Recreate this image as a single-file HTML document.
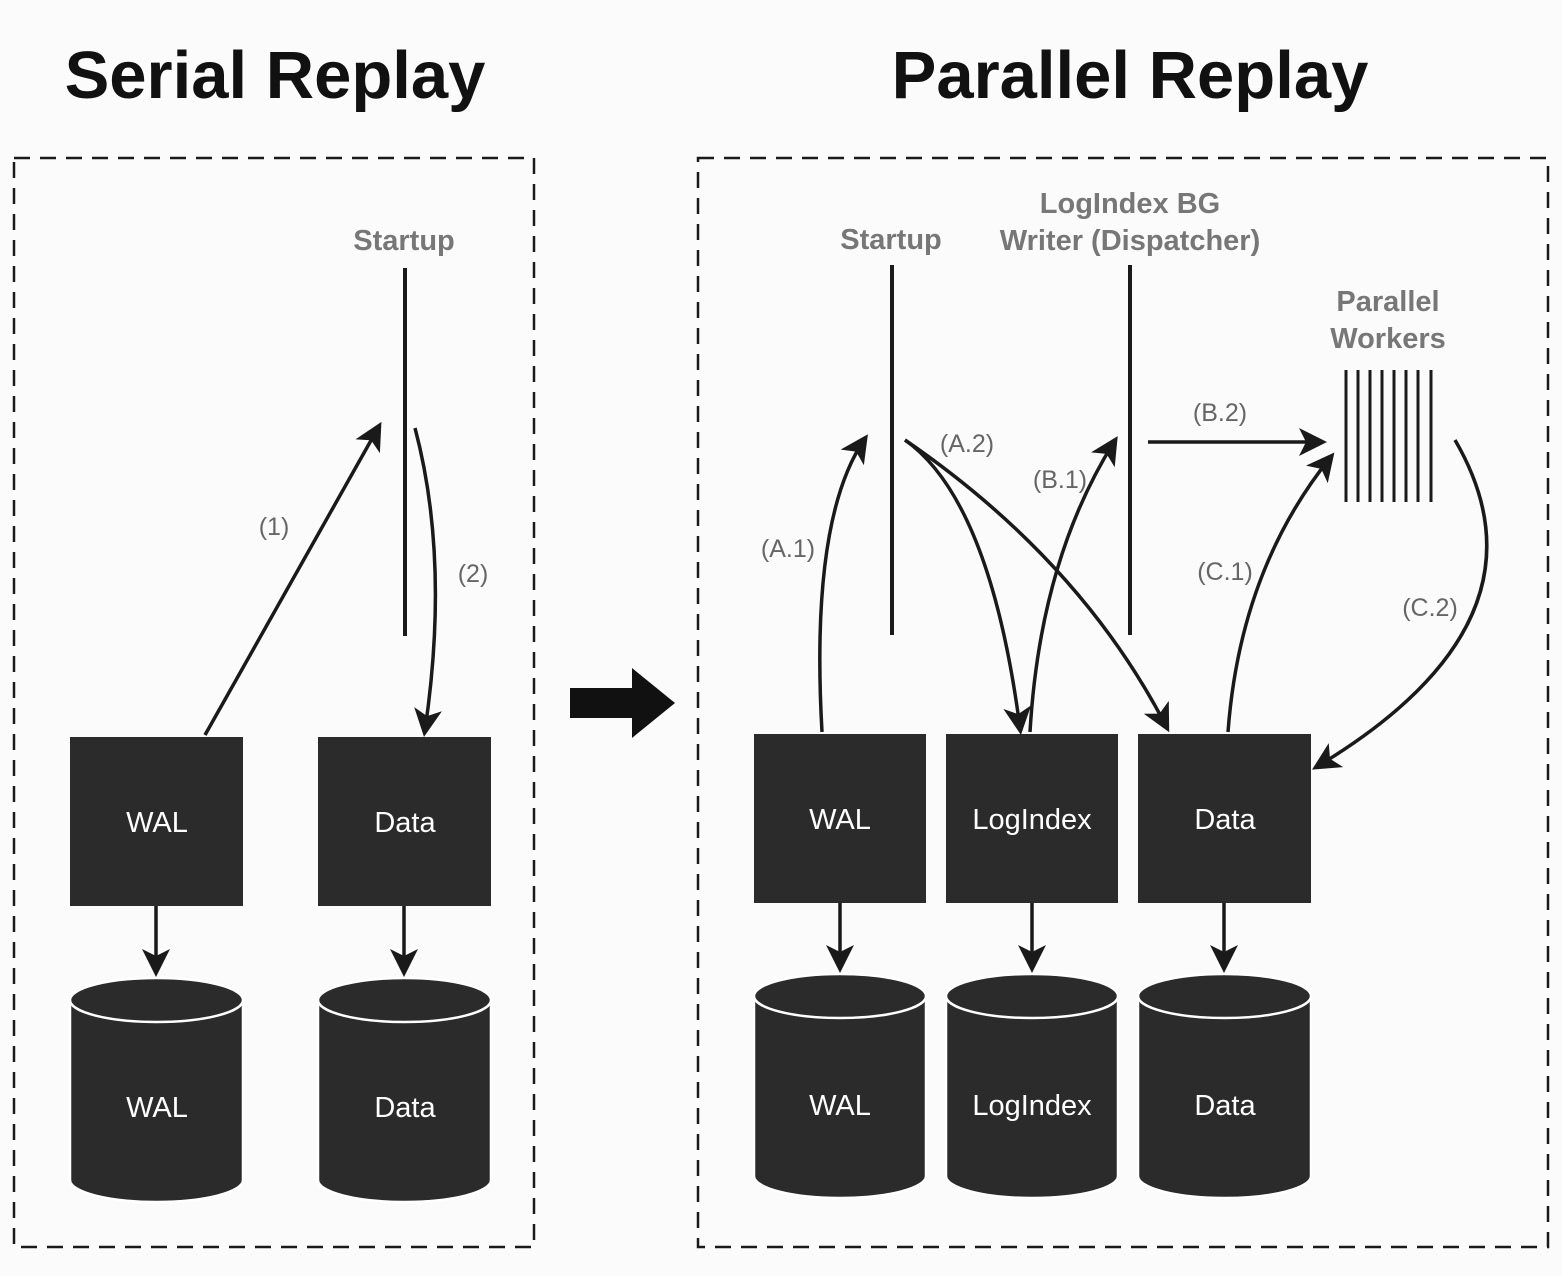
<!DOCTYPE html>
<html><head><meta charset="utf-8"><style>
html,body{margin:0;padding:0;background:#fbfbfb;}
svg{display:block;}
text{font-family:"Liberation Sans",Arial,sans-serif;}
.t{font-weight:bold;font-size:67px;fill:#111;text-anchor:middle;}
.h{font-weight:bold;font-size:29px;fill:#777;text-anchor:middle;}
.l{font-size:25px;fill:#666;text-anchor:middle;}
.w{font-size:29px;fill:#fff;text-anchor:middle;}
.a{stroke:#1a1a1a;stroke-width:3.5;fill:none;marker-end:url(#ah);}
</style></head><body>
<svg width="1562" height="1276" viewBox="0 0 1562 1276" xmlns="http://www.w3.org/2000/svg">
<defs>
<marker id="ah" markerWidth="8" markerHeight="8" refX="6" refY="4" orient="auto" markerUnits="strokeWidth">
<path d="M0,0 L8,4 L0,8 L2,4 Z" fill="#1a1a1a"/>
</marker>
</defs>
<text class="t" x="275" y="98">Serial Replay</text>
<text class="t" x="1130" y="98">Parallel Replay</text>
<rect x="14" y="158" width="520" height="1089" fill="none" stroke="#1a1a1a" stroke-width="2.5" stroke-dasharray="16,10"/>
<rect x="698" y="158" width="850" height="1089" fill="none" stroke="#1a1a1a" stroke-width="2.5" stroke-dasharray="16,10"/>

<text class="h" x="404" y="250">Startup</text>
<line x1="405" y1="268" x2="405" y2="636" stroke="#1a1a1a" stroke-width="4"/>
<rect x="70" y="737" width="173" height="169" fill="#2b2b2b"/>
<rect x="318" y="737" width="173" height="169" fill="#2b2b2b"/>
<text class="w" x="157" y="832">WAL</text>
<text class="w" x="405" y="832">Data</text>
<g fill="#2b2b2b" stroke="#fff" stroke-width="2.5">
<path d="M70,1000 L70,1180 A86.5,22 0 0 0 243,1180 L243,1000 Z"/>
<ellipse cx="156.5" cy="1000" rx="86.5" ry="22"/>
<path d="M318,1000 L318,1180 A86.5,22 0 0 0 491,1180 L491,1000 Z"/>
<ellipse cx="404.5" cy="1000" rx="86.5" ry="22"/>
</g>
<text class="w" x="157" y="1117">WAL</text>
<text class="w" x="405" y="1117">Data</text>
<path class="a" d="M156,906 L156,970"/>
<path class="a" d="M404,906 L404,970"/>
<path class="a" d="M205,735 L378,428"/>
<path class="a" d="M415,428 Q450,560 425,730"/>
<text class="l" x="274" y="535">(1)</text>
<text class="l" x="473" y="582">(2)</text>

<rect x="570" y="688" width="64" height="30" fill="#111"/>
<path d="M632,668 L675,703 L632,738 Z" fill="#111"/>

<text class="h" x="891" y="249">Startup</text>
<text class="h" x="1130" y="213">LogIndex BG</text>
<text class="h" x="1130" y="250">Writer (Dispatcher)</text>
<text class="h" x="1388" y="311">Parallel</text>
<text class="h" x="1388" y="348">Workers</text>
<line x1="892" y1="265" x2="892" y2="635" stroke="#1a1a1a" stroke-width="4"/>
<line x1="1130" y1="265" x2="1130" y2="635" stroke="#1a1a1a" stroke-width="4"/>
<g stroke="#1a1a1a" stroke-width="3">
<line x1="1346" y1="370" x2="1346" y2="502"/><line x1="1358" y1="370" x2="1358" y2="502"/>
<line x1="1370" y1="370" x2="1370" y2="502"/><line x1="1382" y1="370" x2="1382" y2="502"/>
<line x1="1394" y1="370" x2="1394" y2="502"/><line x1="1406" y1="370" x2="1406" y2="502"/>
<line x1="1418" y1="370" x2="1418" y2="502"/><line x1="1431" y1="370" x2="1431" y2="502"/>
</g>
<rect x="754" y="734" width="172" height="169" fill="#2b2b2b"/>
<rect x="946" y="734" width="172" height="169" fill="#2b2b2b"/>
<rect x="1138" y="734" width="173" height="169" fill="#2b2b2b"/>
<text class="w" x="840" y="829">WAL</text>
<text class="w" x="1032" y="829">LogIndex</text>
<text class="w" x="1225" y="829">Data</text>
<g fill="#2b2b2b" stroke="#fff" stroke-width="2.5">
<path d="M754,996 L754,1176 A86,22 0 0 0 926,1176 L926,996 Z"/>
<ellipse cx="840" cy="996" rx="86" ry="22"/>
<path d="M946,996 L946,1176 A86,22 0 0 0 1118,1176 L1118,996 Z"/>
<ellipse cx="1032" cy="996" rx="86" ry="22"/>
<path d="M1138,996 L1138,1176 A86.5,22 0 0 0 1311,1176 L1311,996 Z"/>
<ellipse cx="1224.5" cy="996" rx="86.5" ry="22"/>
</g>
<text class="w" x="840" y="1115">WAL</text>
<text class="w" x="1032" y="1115">LogIndex</text>
<text class="w" x="1225" y="1115">Data</text>
<path class="a" d="M840,903 L840,966"/>
<path class="a" d="M1032,903 L1032,966"/>
<path class="a" d="M1224,903 L1224,966"/>

<path class="a" d="M822,732 Q810,520 864,440"/>
<path class="a" d="M905,440 Q990,500 1020,728"/>
<path class="a" d="M905,440 Q1080,560 1166,726"/>
<path class="a" d="M1030,732 Q1040,560 1114,442"/>
<path class="a" d="M1148,442 L1320,442"/>
<path class="a" d="M1228,732 Q1240,570 1330,458"/>
<path class="a" d="M1455,440 Q1560,620 1318,766"/>
<text class="l" x="967" y="452">(A.2)</text>
<text class="l" x="1060" y="488">(B.1)</text>
<text class="l" x="1220" y="421">(B.2)</text>
<text class="l" x="788" y="557">(A.1)</text>
<text class="l" x="1225" y="580">(C.1)</text>
<text class="l" x="1430" y="616">(C.2)</text>
</svg>
</body></html>
